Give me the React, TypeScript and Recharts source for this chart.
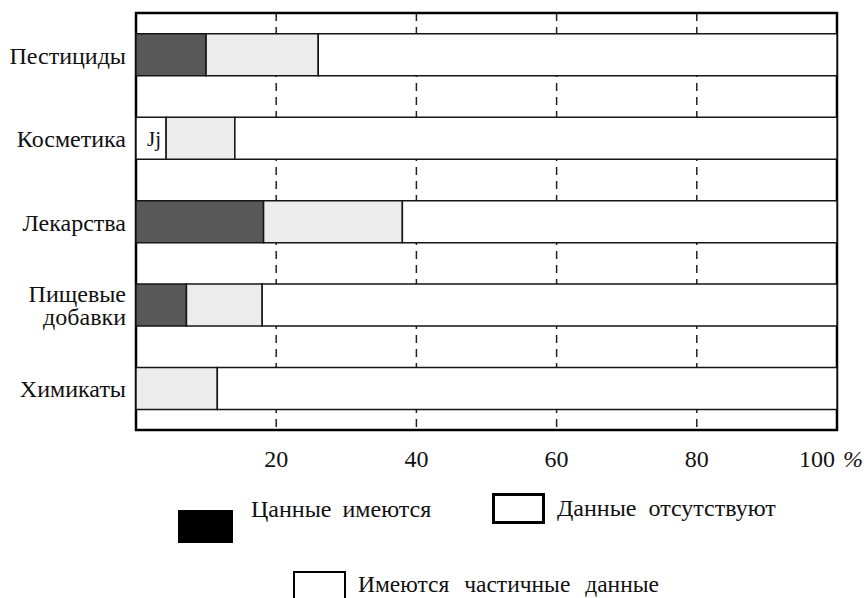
import {
  BarChart,
  Bar,
  XAxis,
  YAxis,
  CartesianGrid,
  ReferenceArea,
  Cell,
  LabelList,
} from 'recharts';

const categories = ['Пестициды', 'Косметика', 'Лекарства', 'Пищевые добавки', 'Химикаты'];
const available = [10, 4.3, 18.2, 7.2, 0];
const partial = [16, 9.8, 19.8, 10.8, 11.6];
const absent = [74, 85.9, 62, 82, 88.4];
const availableNotes = ['', 'Jj', '', '', ''];
const xTicks = [0, 20, 40, 60, 80, 100];

const legendLabels = ['Цанные имеются', 'Данные  отсутствуют', 'Имеются частичные данные'];

const SERIF = { fontFamily: "'Liberation Serif'" };
const DARK = '#585858';
const LIGHT = '#ececec';
const INK = '#151515';

const chartData = categories.map((name, i) => ({
  name,
  available: available[i],
  partial: partial[i],
  absent: absent[i],
  note: availableNotes[i],
}));

function CategoryTick(props: any) {
  const { x, y, payload } = props;
  const words: string[] = String(payload.value).split(' ');
  const lh = 23;
  const top = y - ((words.length - 1) * lh) / 2;
  return (
    <text x={x - 2} y={top + 9} textAnchor="end" fontSize={24} fill="#111" style={SERIF}>
      {words.map((w, i) => (
        <tspan key={w} x={x - 2} y={top + 9 + i * lh}>
          {w}
        </tspan>
      ))}
    </text>
  );
}

function ValueTick(props: any) {
  const { x, y, payload } = props;
  const v = payload.value;
  if (v === 0) return null;
  const base = y + 29;
  if (v === 100) {
    return (
      <g fill="#111">
        <text x={x - 20} y={base} textAnchor="middle" fontSize={24} style={SERIF}>100</text>
        <text x={x + 16} y={base} textAnchor="middle" fontSize={24} fontStyle="italic" style={SERIF}>%</text>
      </g>
    );
  }
  return (
    <text x={x} y={base} textAnchor="middle" fontSize={24} fill="#111" style={SERIF}>
      {v}
    </text>
  );
}

function NoteLabel(props: any) {
  const { x, y, width, height, value } = props;
  if (!value) return null;
  return (
    <text x={x + width / 2 + 3} y={y + height / 2 + 8} textAnchor="middle" fontSize={21} fill="#111" style={SERIF}>
      {value}
    </text>
  );
}

function Legend() {
  return (
    <svg width={864} height={598} style={{ position: 'absolute', left: 0, top: 0, pointerEvents: 'none' }}>
      <rect x={178} y={510} width={55} height={33} fill="#000" />
      <text x={251} y={517} fontSize={24} wordSpacing={5} fill="#111" style={SERIF}>{legendLabels[0]}</text>
      <rect x={493.5} y={494.5} width={50} height={28} fill="#fff" stroke="#000" strokeWidth={3} />
      <text x={557} y={516} fontSize={24} fill="#111" style={{ ...SERIF, whiteSpace: 'pre' }}>{legendLabels[1]}</text>
      <rect x={294} y={572} width={51} height={40} fill="#fff" stroke="#000" strokeWidth={2} />
      <text x={358} y={592} fontSize={23.5} wordSpacing={9} fill="#111" style={SERIF}>{legendLabels[2]}</text>
    </svg>
  );
}

export default function App() {
  return (
    <div style={{ position: 'absolute', left: 0, top: 0, width: 864, height: 598, background: '#fff', ...SERIF }}>
      <BarChart
        width={864}
        height={598}
        data={chartData}
        layout="vertical"
        barCategoryGap="25%"
        margin={{ top: 13, right: 27, bottom: 108, left: 0 }}
      >
        <CartesianGrid horizontal={false} stroke="#222" strokeWidth={1.5} strokeDasharray="8 6" />
        <XAxis
          type="number"
          domain={[0, 100]}
          ticks={xTicks}
          axisLine={false}
          tickLine={false}
          height={60}
          tick={<ValueTick />}
          interval={0}
        />
        <YAxis
          type="category"
          dataKey="name"
          width={136}
          axisLine={false}
          tickLine={false}
          tick={<CategoryTick />}
          interval={0}
        />
        <Bar dataKey="available" stackId="s" fill={DARK} stroke={INK} strokeWidth={1.5} isAnimationActive={false}>
          {chartData.map((d) => (
            <Cell key={d.name} fill={d.note ? '#fff' : DARK} />
          ))}
          <LabelList dataKey="note" content={<NoteLabel />} />
        </Bar>
        <Bar dataKey="partial" stackId="s" fill={LIGHT} stroke={INK} strokeWidth={1.5} isAnimationActive={false} />
        <Bar dataKey="absent" stackId="s" fill="#fff" stroke={INK} strokeWidth={1.5} isAnimationActive={false} />
        <ReferenceArea x1={0} x2={100} fill="none" stroke="#000" strokeWidth={2.5} ifOverflow="visible" />
      </BarChart>
      <Legend />
    </div>
  );
}
